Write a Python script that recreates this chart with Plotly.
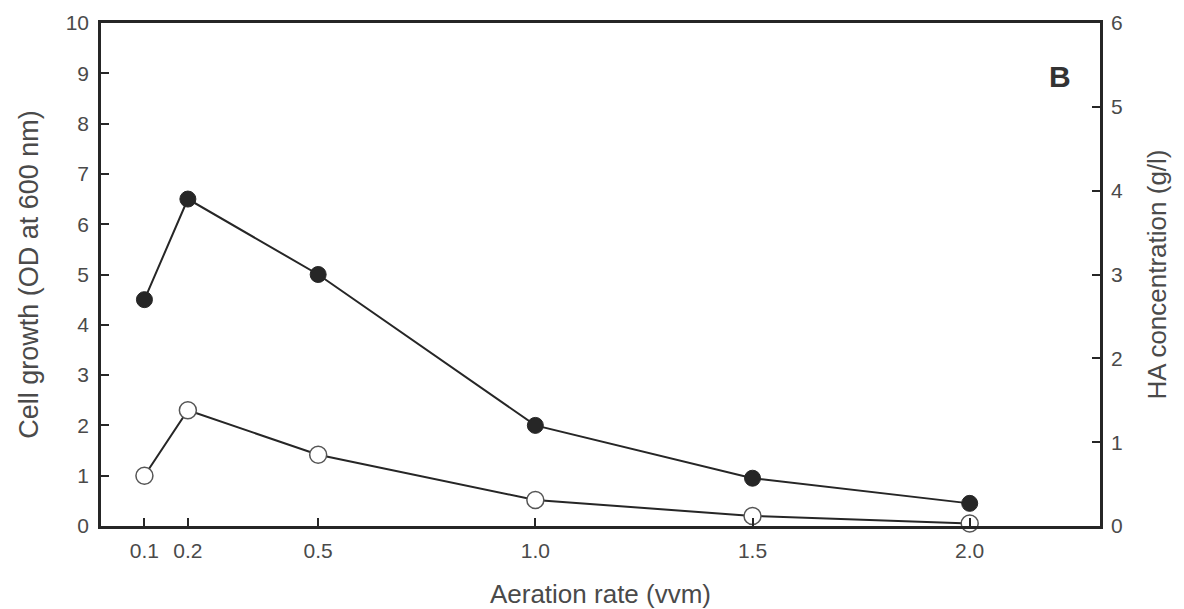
import plotly.graph_objects as go

aeration = [0.1, 0.2, 0.5, 1.0, 1.5, 2.0]
cell_growth = [4.5, 6.5, 5.0, 2.0, 0.95, 0.45]
ha_conc = [0.6, 1.38, 0.85, 0.31, 0.12, 0.03]
x_ticks = [0.1, 0.2, 0.5, 1.0, 1.5, 2.0]
x_ticklabels = ["0.1", "0.2", "0.5", "1.0", "1.5", "2.0"]
left_ticks = list(range(0, 11))
right_ticks = list(range(0, 7))

line_col = "#262626"
text_col = "#4a4a4a"
font_fam = "Liberation Sans, Arial, sans-serif"

fig = go.Figure()
fig.add_trace(go.Scatter(
    x=aeration, y=cell_growth, mode="lines+markers", yaxis="y",
    line=dict(color=line_col, width=2),
    marker=dict(size=16, color="#262626", line=dict(color="#262626", width=1)),
    cliponaxis=False, showlegend=False))
fig.add_trace(go.Scatter(
    x=aeration, y=ha_conc, mode="lines+markers", yaxis="y2",
    line=dict(color=line_col, width=2),
    marker=dict(size=17, color="white", line=dict(color="#555555", width=1.5)),
    cliponaxis=False, showlegend=False))

axis_common = dict(showgrid=False, zeroline=False, showline=True, automargin=False,
                   linecolor=line_col, linewidth=2.5, ticks="inside",
                   ticklen=8, tickwidth=1.5, tickcolor=line_col,
                   tickfont=dict(size=21, color=text_col, family=font_fam))

fig.update_layout(
    width=1176, height=601,
    paper_bgcolor="white", plot_bgcolor="white",
    margin=dict(l=93, r=84, t=15, b=83),
    font=dict(family=font_fam, color=text_col),
    xaxis=dict(range=[0, 2.3], tickvals=x_ticks, ticktext=x_ticklabels,
               mirror=True, ticklabelstandoff=4,
               title=dict(text="Aeration rate (vvm)", font=dict(size=26, color=text_col), standoff=24),
               **axis_common),
    yaxis=dict(range=[0, 10], tickvals=left_ticks, ticklabelstandoff=5,
               title=dict(text="Cell growth (OD at 600 nm)", font=dict(size=27, color=text_col), standoff=20),
               **axis_common),
    yaxis2=dict(range=[0, 6], tickvals=right_ticks, overlaying="y", side="right",
                ticklabelstandoff=4,
                title=dict(text="HA concentration (g/l)", font=dict(size=26, color=text_col), standoff=26),
                **axis_common),
    annotations=[dict(text="<b>B</b>", x=0.96, y=0.893, xref="paper", yref="paper",
                      xanchor="center", yanchor="middle",
                      showarrow=False, font=dict(size=30, color="#333333", family=font_fam))],
)

fig.write_html("out.html")
